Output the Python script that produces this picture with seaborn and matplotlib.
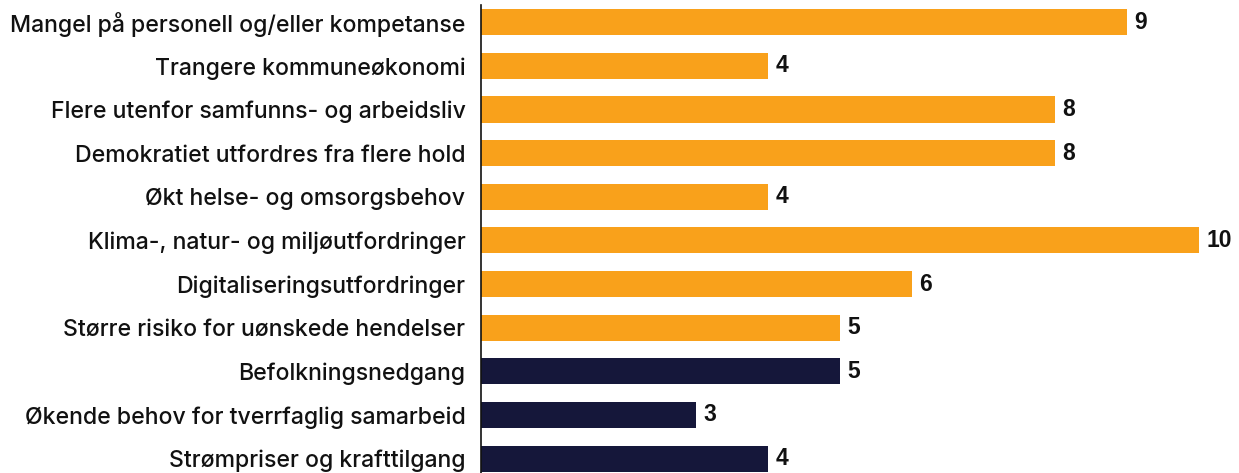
import matplotlib
matplotlib.use("Agg")
import matplotlib.pyplot as plt
import seaborn as sns
import pandas as pd

categories = [
    "Mangel på personell og/eller kompetanse",
    "Trangere kommuneøkonomi",
    "Flere utenfor samfunns- og arbeidsliv",
    "Demokratiet utfordres fra flere hold",
    "Økt helse- og omsorgsbehov",
    "Klima-, natur- og miljøutfordringer",
    "Digitaliseringsutfordringer",
    "Større risiko for uønskede hendelser",
    "Befolkningsnedgang",
    "Økende behov for tverrfaglig samarbeid",
    "Strømpriser og krafttilgang",
]
values = [9, 4, 8, 8, 4, 10, 6, 5, 5, 3, 4]
groups = ["A"] * 8 + ["B"] * 3

df = pd.DataFrame({"kategori": categories, "verdi": values, "gruppe": groups})

sns.set_theme(style="white")
plt.rcParams["font.family"] = ["Inter", "Liberation Sans", "DejaVu Sans"]

fig = plt.figure(figsize=(12.39, 4.73), dpi=100)
ax = fig.add_axes([0.388, 0.0, 0.6088, 0.99])

sns.barplot(data=df, x="verdi", y="kategori", hue="gruppe",
            palette={"A": "#F9A11B", "B": "#15173A"},
            dodge=False, width=0.6, orient="h", legend=False, ax=ax,
            saturation=1, linewidth=0)

for i, v in enumerate(values):
    ax.text(v + 0.1, i, str(v), va="center", ha="left",
            fontsize=16.5, fontweight="bold", color="#111111",
            family=["Liberation Sans", "DejaVu Sans"])

ax.set_xlim(0, 10.5)
ax.set_ylim(10.33, -0.4)
ax.set_xlabel("")
ax.set_ylabel("")
ax.set_xticks([])
ax.tick_params(axis="y", length=0, pad=11, labelsize=16.6, labelcolor="#111111")
for lab in ax.get_yticklabels():
    lab.set_fontweight(500)
for s in ["top", "right", "bottom"]:
    ax.spines[s].set_visible(False)
ax.spines["left"].set_color("#111111")
ax.spines["left"].set_linewidth(1.2)

fig.savefig("out.png", dpi=100)
